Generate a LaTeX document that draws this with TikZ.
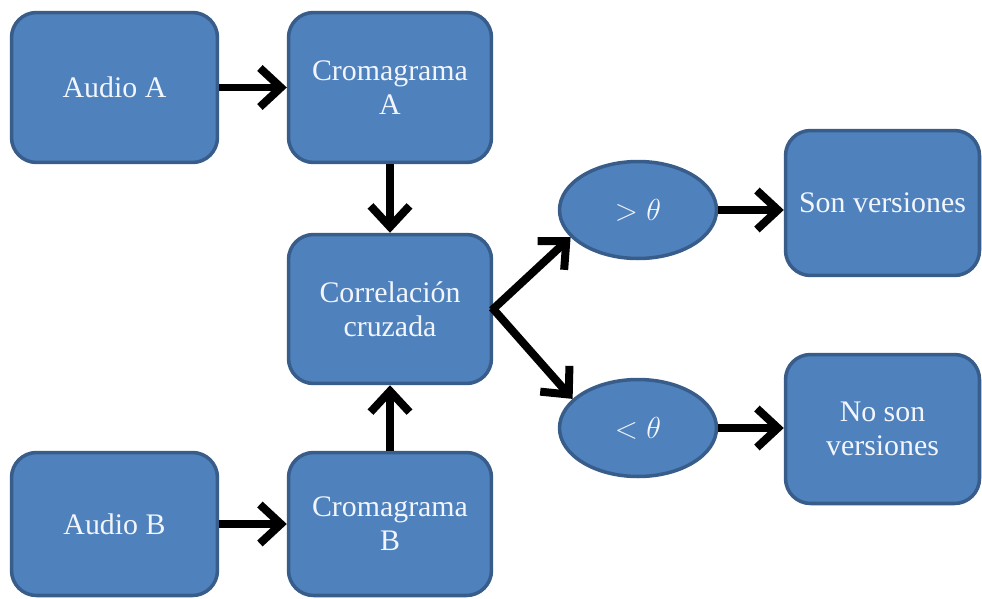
\documentclass[tikz,border=0pt]{standalone}
\usepackage{fontspec}
\setmainfont{Liberation Serif}
\usetikzlibrary{arrows.meta,shapes.geometric}
\definecolor{boxfill}{HTML}{4F81BD}
\definecolor{boxline}{HTML}{385D8A}
\definecolor{boxtext}{HTML}{F2F6FC}
\tikzset{
  block/.style={draw=boxline, fill=boxfill, line width=2pt, rounded corners=0.5cm,
    align=center, text=boxtext, font=\rmfamily\fontsize{17}{19.5}\selectfont, inner sep=0pt},
  decision/.style={ellipse, draw=boxline, fill=boxfill, line width=2pt,
    minimum width=3.14cm, minimum height=1.94cm, inner sep=0pt,
    text=boxtext, font=\rmfamily\fontsize{17}{19.5}\selectfont},
  flow/.style={line width=0.16cm, -{Straight Barb[length=0.42cm, width=0.78cm]}}
}
\begin{document}
\begin{tikzpicture}[x=0.02cm, y=-0.02cm]
\useasboundingbox (0,0) rectangle (982,598);

% source and chromagram blocks
\node[block, minimum width=4.12cm, minimum height=3.0cm] (audA) at (114.5,87.5) {Audio A};
\node[block, minimum width=4.06cm, minimum height=3.0cm] (cromA) at (390,87.5) {Cromagrama\\A};
\node[block, minimum width=4.06cm, minimum height=2.98cm] (corr) at (390,309) {Correlación\\cruzada};
\node[block, minimum width=4.06cm, minimum height=2.86cm] (cromB) at (390,524) {Cromagrama\\B};
\node[block, minimum width=4.12cm, minimum height=2.86cm] (audB) at (114.5,524) {Audio B};

% threshold decisions
\node[decision] (gt) at (638,210) {$>\theta$};
\node[decision] (lt) at (638,428) {$<\theta$};

% outcomes
\node[block, minimum width=3.88cm, minimum height=2.9cm] (yes) at (882.5,203) {Son versiones};
\node[block, minimum width=3.88cm, minimum height=2.98cm] (no) at (882.5,429) {No son\\versiones};

% connectors
\draw[flow] (audA) -- (cromA);
\draw[flow] (cromA) -- (corr);
\draw[flow] (cromB) -- (corr);
\draw[flow] (audB) -- (cromB);
\draw[flow, shorten <=-1pt] (corr.east) -- (gt.202);
\draw[flow, shorten <=-1pt] (corr.east) -- (lt.156);
\draw[flow] (gt) -- (gt -| yes.west);
\draw[flow] (lt) -- (lt -| no.west);
\end{tikzpicture}
\end{document}
